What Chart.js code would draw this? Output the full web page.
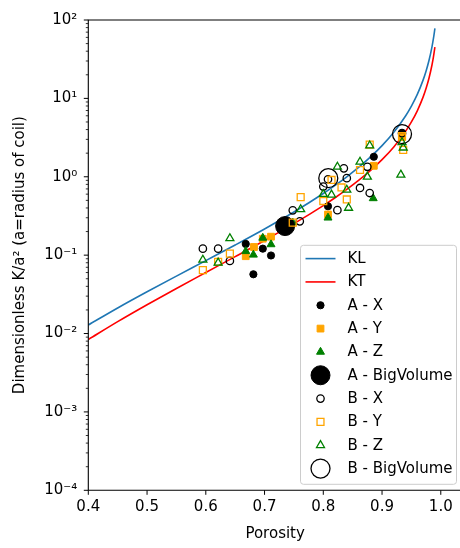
<!DOCTYPE html>
<html><head><meta charset="utf-8">
<script src="https://cdn.jsdelivr.net/npm/chart.js@4.4.0/dist/chart.umd.min.js"></script>
<style>
html,body{margin:0;padding:0;overflow:hidden;background:#fff;width:460px;height:548px}
#wrap{width:480px;height:548px;position:relative}
</style>
</head><body><div id="wrap"><canvas id="c" width="480" height="548"></canvas></div>
<script>
// ---- data ----
const curvePorosity = [0.40,0.45,0.50,0.55,0.60,0.65,0.70,0.75,0.80,0.82,0.84,0.86,0.88,0.90,0.92,0.94,0.95,0.96,0.97,0.975,0.98,0.985,0.9875,0.99];
const klValues = [0.01284,0.02118,0.03407,0.05403,0.08518,0.1347,0.2158,0.3550,0.6118,0.7758,0.9997,1.3148,1.777,2.494,3.695,5.965,7.972,11.24,17.22,22.39,30.65,45.49,58.14,78.13];
const ktValues = [0.008383,0.01417,0.02329,0.03759,0.06005,0.09575,0.1538,0.2520,0.4290,0.5400,0.6895,0.8969,1.1965,1.653,2.404,3.793,5.002,6.944,10.45,13.45,18.21,26.67,33.82,45.07];

const axPorosity = [0.668,0.681,0.697,0.711,0.808,0.886,0.934];
const axValues   = [0.139,0.057,0.121,0.099,0.42,1.8,3.6];
const ayPorosity = [0.668,0.682,0.697,0.711,0.808,0.886,0.934];
const ayValues   = [0.097,0.127,0.162,0.172,0.33,1.38,3.2];
const azPorosity = [0.668,0.681,0.697,0.711,0.748,0.808,0.885];
const azValues   = [0.112,0.101,0.166,0.137,0.26,0.30,0.53];
const abigPorosity = [0.735];
const abigValues   = [0.235];

const bxPorosity = [0.595,0.621,0.641,0.748,0.760,0.800,0.808,0.824,0.835,0.840,0.8625,0.875,0.879,0.934];
const bxValues   = [0.121,0.121,0.0845,0.373,0.27,0.75,0.93,0.375,1.28,0.96,0.72,1.34,0.62,3.6];
const byPorosity = [0.595,0.621,0.641,0.748,0.7615,0.800,0.814,0.831,0.840,0.8625,0.879,0.936,0.934];
const byValues   = [0.0644,0.082,0.1045,0.26,0.55,0.49,0.91,0.73,0.513,1.22,2.57,2.2,3.3];
const bzPorosity = [0.595,0.621,0.641,0.7615,0.800,0.814,0.824,0.843,0.840,0.8625,0.875,0.879,0.934,0.936,0.932];
const bzValues   = [0.087,0.080,0.164,0.384,0.60,0.59,1.34,0.40,0.68,1.55,1.0,2.5,2.75,2.35,1.06];
const bbigPorosity = [0.8085,0.934];
const bbigValues   = [0.96,3.5];

const xTickValues = [0.4,0.5,0.6,0.7,0.8,0.9,1.0];
const xTickLabels = ['0.4','0.5','0.6','0.7','0.8','0.9','1.0'];
const yTickValues = [1e-4,1e-3,1e-2,1e-1,1,10,100];
const yTickLabels = ['10\u207B\u2074','10\u207B\u00B3','10\u207B\u00B2','10\u207B\u00B9','10\u2070','10\u00B9','10\u00B2'];

// ---- chart ----
const FONT = 'DejaVu Sans';
const FS = 15;
function pts(xs, ys){ return xs.map((x,i)=>({x:x, y:ys[i]})); }
const none = 'rgba(0,0,0,0)';
function markerSet(label, xs, ys, style, r, color, filled){
  return {label, type:'scatter', data: pts(xs, ys), pointStyle: style, pointRadius: r,
    pointBackgroundColor: filled ? color : none, pointBorderColor: color,
    pointBorderWidth: filled ? 1 : 1.3, showLine:false};
}
const datasets = [
  {label:'KL', type:'line', data: pts(curvePorosity, klValues), borderColor:'#1f77b4', borderWidth:1.6, pointRadius:0, fill:false, cubicInterpolationMode:'monotone'},
  {label:'KT', type:'line', data: pts(curvePorosity, ktValues), borderColor:'#ff0000', borderWidth:1.6, pointRadius:0, fill:false, cubicInterpolationMode:'monotone'},
  markerSet('A - X', axPorosity, axValues, 'circle', 3.6, '#000000', true),
  markerSet('A - Y', ayPorosity, ayValues, 'rect', 4.8, '#ffa500', true),
  markerSet('A - Z', azPorosity, azValues, 'triangle', 4.6, '#008000', true),
  markerSet('A - BigVolume', abigPorosity, abigValues, 'circle', 9.5, '#000000', true),
  markerSet('B - X', bxPorosity, bxValues, 'circle', 3.7, '#000000', false),
  markerSet('B - Y', byPorosity, byValues, 'rect', 4.9, '#ffa500', false),
  markerSet('B - Z', bzPorosity, bzValues, 'triangle', 4.6, '#008000', false),
  markerSet('B - BigVolume', bbigPorosity, bbigValues, 'circle', 9.5, '#000000', false)
];
datasets.forEach((d,i)=>{ d.order = datasets.length - i; });

function drawMarker(ctx, style, x, y, r, fill, stroke, lw){
  ctx.beginPath();
  if (style === 'circle') { ctx.arc(x, y, r, 0, Math.PI*2); }
  else if (style === 'rect') { const s = Math.SQRT1_2 * r; ctx.rect(x-s, y-s, 2*s, 2*s); }
  else if (style === 'triangle') {
    let a = 0;
    ctx.moveTo(x + Math.sin(a)*r, y - Math.cos(a)*r);
    a += 2*Math.PI/3; ctx.lineTo(x + Math.sin(a)*r, y - Math.cos(a)*r);
    a += 2*Math.PI/3; ctx.lineTo(x + Math.sin(a)*r, y - Math.cos(a)*r);
    ctx.closePath();
  }
  if (fill && fill !== none) { ctx.fillStyle = fill; ctx.fill(); }
  ctx.lineWidth = lw; ctx.strokeStyle = stroke; ctx.stroke();
}

const framePlugin = {
  id: 'frame',
  afterDraw(chart){
    const ctx = chart.ctx, a = chart.chartArea;
    const xs = chart.scales.x, ys = chart.scales.y;
    ctx.save();
    // spines
    ctx.strokeStyle = '#000'; ctx.lineWidth = 1.1;
    ctx.beginPath();
    ctx.moveTo(a.left, a.top); ctx.lineTo(a.right, a.top); ctx.lineTo(a.right, a.bottom);
    ctx.lineTo(a.left, a.bottom); ctx.closePath(); ctx.stroke();
    // x ticks
    ctx.lineWidth = 1;
    ctx.beginPath();
    xTickValues.forEach(v => { const px = xs.getPixelForValue(v); ctx.moveTo(px, a.bottom); ctx.lineTo(px, a.bottom + 4.5); });
    ctx.stroke();
    // y ticks (major + minor)
    for (let e = -4; e <= 2; e++) {
      for (let m = 1; m <= 9; m++) {
        const v = m * Math.pow(10, e);
        if (v > 100.0001) break;
        const py = ys.getPixelForValue(v);
        const len = m === 1 ? 4.5 : 2.5;
        ctx.lineWidth = m === 1 ? 1 : 0.8;
        ctx.beginPath(); ctx.moveTo(a.left - len, py); ctx.lineTo(a.left, py); ctx.stroke();
      }
    }
    // legend
    const W = 156, H = 239;
    const left = a.right - 5.5 - W, top = a.bottom - 6 - H;
    ctx.beginPath();
    if (ctx.roundRect) ctx.roundRect(left, top, W, H, 3); else ctx.rect(left, top, W, H);
    ctx.fillStyle = 'rgba(255,255,255,0.8)'; ctx.fill();
    ctx.lineWidth = 1; ctx.strokeStyle = '#cccccc'; ctx.stroke();
    ctx.font = FS + 'px "' + FONT + '"';
    ctx.textBaseline = 'middle'; ctx.textAlign = 'left';
    chart.data.datasets.forEach((d, i) => {
      const cy = top + 13.3 + i * 23.33;
      if (d.type === 'line') {
        ctx.beginPath(); ctx.moveTo(left + 5, cy); ctx.lineTo(left + 35, cy);
        ctx.lineWidth = d.borderWidth; ctx.strokeStyle = d.borderColor; ctx.stroke();
      } else {
        drawMarker(ctx, d.pointStyle, left + 20, cy, d.pointRadius, d.pointBackgroundColor, d.pointBorderColor, d.pointBorderWidth);
      }
      ctx.fillStyle = '#000';
      ctx.fillText(d.label, left + 47, cy + 0.5);
    });
    ctx.restore();
  }
};

new Chart(document.getElementById('c'), {
  type: 'scatter',
  data: { datasets },
  options: {
    responsive: false, animation: false, events: [],
    devicePixelRatio: 1,
    layout: { padding: { left: 0, top: 12.7, right: 18, bottom: 0 } },
    plugins: { legend: { display: false }, tooltip: { enabled: false } },
    scales: {
      x: {
        type: 'linear', min: 0.4, max: 1.0361,
        grid: { display: false, drawTicks: false }, border: { display: false },
        afterBuildTicks: s => { s.ticks = xTickValues.map(v => ({ value: v })); },
        afterFit: s => { s.height = 57.7; },
        ticks: { autoSkip: false, maxRotation: 0, padding: 8, color: '#000',
          font: { family: FONT, size: FS },
          callback: v => { const i = xTickValues.findIndex(t => Math.abs(t - v) < 1e-9); return i >= 0 ? xTickLabels[i] : ''; } },
        title: { display: true, text: 'Porosity', color: '#000', font: { family: FONT, size: FS }, padding: { top: 0, bottom: 5 } }
      },
      y: {
        type: 'logarithmic', min: 1e-4, max: 100,
        grid: { display: false, drawTicks: false }, border: { display: false },
        afterBuildTicks: s => { s.ticks = yTickValues.map(v => ({ value: v, major: true })); },
        afterFit: s => { s.width = 88.3; },
        ticks: { autoSkip: false, padding: 11, color: '#000',
          font: { family: FONT, size: FS },
          callback: v => { const i = yTickValues.findIndex(t => Math.abs(Math.log10(t) - Math.log10(v)) < 1e-9); return i >= 0 ? yTickLabels[i] : ''; } },
        title: { display: true, text: 'Dimensionless K/a\u00B2 (a=radius of coil)', color: '#000', font: { family: FONT, size: FS }, padding: { top: 11.5, bottom: 0 } }
      }
    }
  },
  plugins: [framePlugin]
});
</script>
</body></html>
